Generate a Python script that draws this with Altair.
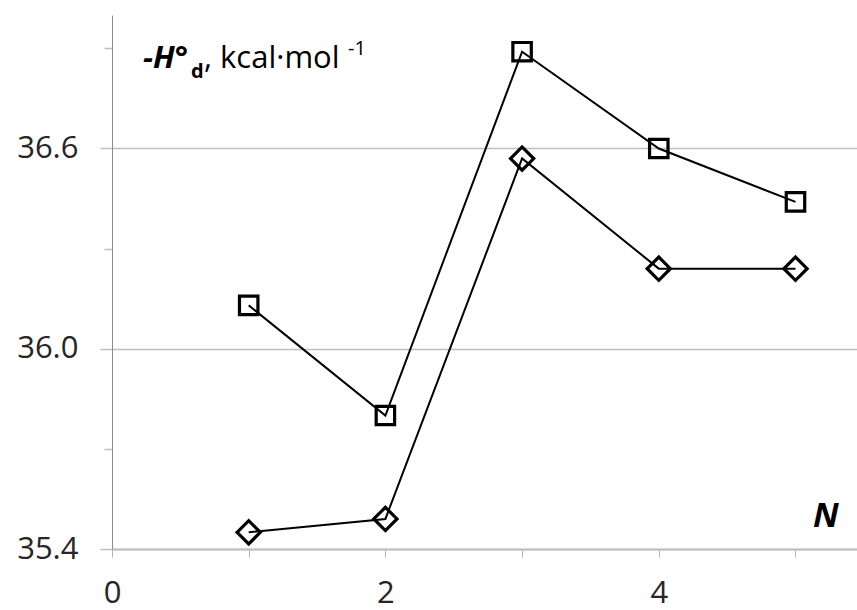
import altair as alt
import pandas as pd

# Number of units N and the two enthalpy series (-H°d, kcal/mol)
n_values = [1, 2, 3, 4, 5]
h_square = [36.13, 35.80, 36.89, 36.60, 36.44]
h_diamond = [35.45, 35.49, 36.57, 36.24, 36.24]

x_ticks = [0, 1, 2, 3, 4, 5]
y_ticks = [35.4, 35.7, 36.0, 36.3, 36.6, 36.9]

FONT = "Open Sans"
GRID = "#bfbfbf"
TEXT = "#262626"

df = pd.concat([
    pd.DataFrame({"N": n_values, "H": h_square, "series": "square"}),
    pd.DataFrame({"N": n_values, "H": h_diamond, "series": "diamond"}),
])

major = "abs((datum.value - 35.4) / 0.6 - round((datum.value - 35.4) / 0.6)) < 0.01"

x_enc = alt.X(
    "N:Q",
    scale=alt.Scale(domain=[0, 5.45], nice=False, zero=False),
    axis=alt.Axis(
        values=x_ticks,
        labelExpr="datum.value % 2 == 0 ? format(datum.value, 'd') : ''",
        title=None,
        grid=False,
        tickSize=8,
        tickColor="#b3b3b3",
        tickWidth=1,
        domainColor=GRID,
        domainWidth=2,
        labelFont=FONT,
        labelFontSize=31,
        labelColor=TEXT,
        labelPadding=21,
        labelFlush=False,
    ),
)

y_enc = alt.Y(
    "H:Q",
    scale=alt.Scale(domain=[35.4, 37.0], nice=False, zero=False),
    axis=alt.Axis(
        values=y_ticks,
        labelExpr=f"{major} ? format(datum.value, '.1f') : ''",
        title=None,
        grid=True,
        gridColor=GRID,
        gridWidth=1.5,
        gridOpacity={"condition": {"test": major, "value": 1}, "value": 0},
        tickSize={"condition": {"test": major, "value": 12}, "value": 8},
        tickColor=GRID,
        tickWidth=1.5,
        domainColor="#8c8c8c",
        domainWidth=1,
        labelFont=FONT,
        labelFontSize=31,
        labelColor=TEXT,
        labelPadding=22,
        labelFlush=False,
    ),
)

lines = alt.Chart(df).mark_line(color="black", strokeWidth=2).encode(
    x=x_enc, y=y_enc, detail="series:N"
)

points = alt.Chart(df).mark_point(
    filled=False, color="black", strokeWidth=3.2, opacity=1
).encode(
    x="N:Q",
    y="H:Q",
    shape=alt.Shape("series:N", scale=alt.Scale(domain=["square", "diamond"], range=["square", "diamond"]), legend=None),
    size=alt.Size("series:N", scale=alt.Scale(domain=["square", "diamond"], range=[340, 540]), legend=None),
)


def label(text, x, y, size, weight="normal", style="normal"):
    return alt.Chart(pd.DataFrame({"t": [text]})).mark_text(
        align="left", baseline="alphabetic", font=FONT, fontSize=size,
        fontWeight=weight, fontStyle=style, color="black",
    ).encode(x=alt.value(x), y=alt.value(y), text="t:N")


title_parts = [
    label("-H°", 31, 53, 31, "bold", "italic"),
    label("d", 79, 63, 20, "bold"),
    label(", kcal·mol", 92, 53, 31),
    label("-1", 236, 40, 20),
    label("N", 701, 512, 34, "bold", "italic"),
]

chart = alt.layer(lines, points, *title_parts).properties(
    width=745,
    height=534,
    padding={"left": 112, "top": 15, "right": 0, "bottom": 61},
    autosize=alt.AutoSizeParams(type="none"),
    background="white",
).configure_view(strokeWidth=0)

chart.save("out.html", embed_options={"renderer": "svg", "actions": False})
